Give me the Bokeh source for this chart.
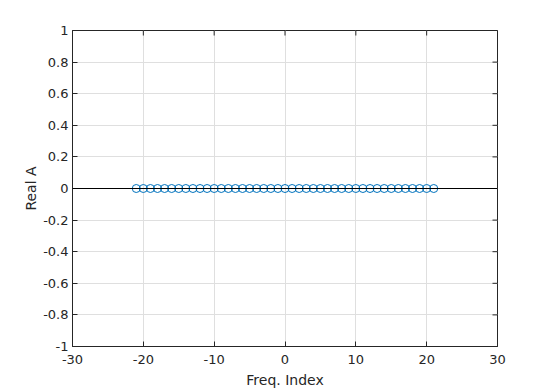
import math
from bokeh.plotting import figure
from bokeh.models import FixedTicker, Span, Range1d
from bokeh.embed import file_html
from bokeh.resources import INLINE

# Data
freq_index = list(range(-21, 22))
real_a = [0.0] * len(freq_index)
x_ticks = [-30, -20, -10, 0, 10, 20, 30]
x_tick_labels = ["-30", "-20", "-10", "0", "10", "20", "30"]
y_ticks = [-1, -0.8, -0.6, -0.4, -0.2, 0, 0.2, 0.4, 0.6, 0.8, 1]
y_tick_labels = ["-1", "-0.8", "-0.6", "-0.4", "-0.2", "0", "0.2", "0.4", "0.6", "0.8", "1"]
x_min, x_max = -30, 30
y_min, y_max = -1, 1

TXT = "#262626"
FONT = "DejaVu Sans"

p = figure(width=534, height=390, output_backend="svg", toolbar_location=None,
           x_range=Range1d(x_min, x_max), y_range=Range1d(y_min, y_max),
           min_border_left=72, min_border_right=37, min_border_top=30, min_border_bottom=28,
           x_axis_label="Freq. Index", y_axis_label="Real A")
p.frame_width = 425
p.frame_height = 316
p.background_fill_color = "white"
p.border_fill_color = "white"
p.outline_line_color = TXT
p.outline_line_width = 1

for ax, ticks, labels in ((p.xaxis[0], x_ticks, x_tick_labels), (p.yaxis[0], y_ticks, y_tick_labels)):
    ax.ticker = FixedTicker(ticks=ticks)
    ax.major_label_overrides = {t: l for t, l in zip(ticks, labels)}
    ax.minor_tick_line_color = None
    ax.major_tick_in = 5
    ax.major_tick_out = 0
    ax.axis_line_color = TXT
    ax.major_tick_line_color = TXT
    ax.major_label_text_color = TXT
    ax.major_label_text_font = FONT
    ax.major_label_text_font_size = "13px"
    ax.axis_label_text_font = FONT
    ax.axis_label_text_font_size = "14px"
    ax.axis_label_text_color = TXT
    ax.axis_label_text_font_style = "normal"
    ax.major_label_standoff = 4

p.xaxis[0].major_label_standoff = 8
p.xaxis[0].axis_label_standoff = 5
p.yaxis[0].axis_label_standoff = 1

p.xgrid.ticker = FixedTicker(ticks=x_ticks)
p.ygrid.ticker = FixedTicker(ticks=y_ticks)
p.grid.grid_line_color = "#dfdfdf"
p.grid.grid_line_width = 1

# Box ticks on top and right edges (clipped to the frame, so only inner half shows)
p.scatter(x=x_ticks, y=[y_max] * len(x_ticks), marker="dash", angle=math.pi / 2,
          size=10, line_color=TXT, line_width=1)
p.scatter(x=[x_max] * len(y_ticks), y=y_ticks, marker="dash", angle=0,
          size=10, line_color=TXT, line_width=1)

# baseline
p.add_layout(Span(location=0, dimension="width", line_color="black", line_width=1))

# stems
p.segment(x0=freq_index, y0=[0] * len(freq_index), x1=freq_index, y1=real_a,
          line_color="#0072BD", line_width=1)
p.scatter(freq_index, real_a, marker="circle", size=8, fill_color=None,
          line_color="#0072BD", line_width=1)

open("out.html", "w").write(file_html(p, INLINE))
